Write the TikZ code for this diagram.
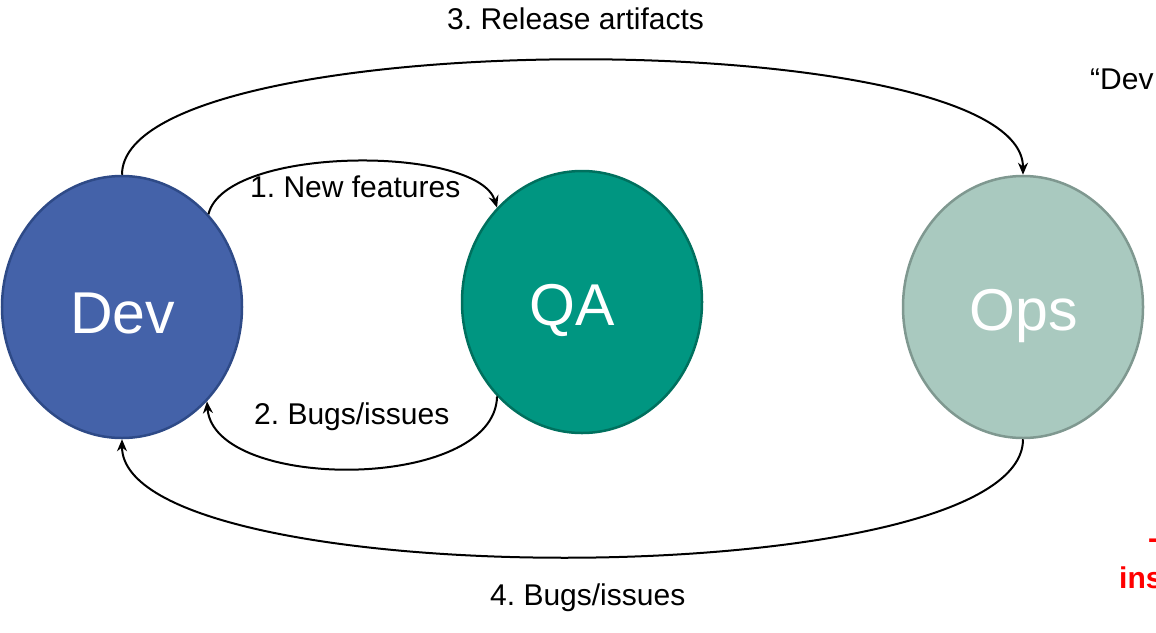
\documentclass[tikz,border=0pt]{standalone}
\usepackage{fontspec}
\setmainfont{Liberation Sans}
\frenchspacing
\usetikzlibrary{arrows.meta,shapes.geometric}
\definecolor{devfill}{RGB}{68,98,169}
\definecolor{devline}{RGB}{46,74,135}
\definecolor{qafill}{RGB}{0,150,129}
\definecolor{qaline}{RGB}{0,112,94}
\definecolor{opsfill}{RGB}{169,201,191}
\definecolor{opsline}{RGB}{127,152,144}
\definecolor{redtxt}{RGB}{255,0,0}
\tikzset{
  team/.style={ellipse, minimum width=240pt, minimum height=262pt, inner sep=0pt, line width=2.5pt},
  bigtxt/.style={text=white, font=\fontsize{59}{62}\selectfont, inner sep=0pt, anchor=base},
  lbl/.style={font=\fontsize{30}{32}\selectfont, inner sep=0pt, anchor=base west},
  flow/.style={line width=2pt, -{Stealth[length=12pt,width=10pt]}},
}
\begin{document}
\begin{tikzpicture}[x=1pt,y=-1pt]
\useasboundingbox (0,0) rectangle (1156,632);
\clip (0,0) rectangle (1156,632);
\node[team, draw=devline, fill=devfill] (dev) at (122,307) {};
\node[team, draw=qaline, fill=qafill] (qa) at (582,302) {};
\node[team, draw=opsline, fill=opsfill] (ops) at (1023,307) {};
\node[bigtxt] (devt) at (122.5,333) {Dev};
\node[bigtxt] (qat) at (572.5,325) {QA};
\node[bigtxt] (opst) at (1024,330) {Ops};
\node[lbl] (l1) at (250,197) {1. New features};
\node[lbl] (l2) at (254,424) {2. Bugs/issues};
\node[lbl] (l3) at (447,29) {3. Release artifacts};
\node[lbl] (l4) at (490,605) {4. Bugs/issues};
\node[lbl] (dq) at (1090,89) {\char"201C Dev};
\node[lbl, text=redtxt, font=\fontsize{30}{32}\selectfont\bfseries] (r1) at (1148,548) {-};
\node[lbl, text=redtxt, font=\fontsize{30}{32}\selectfont\bfseries] (r2) at (1119,588) {ins};
\draw[flow] (dev.47) .. controls (225,145) and (478,145) .. (qa.132);
\draw[flow] (qa.228) .. controls (495,492) and (214,492) .. (dev.312);
\draw[flow] (dev.north) .. controls (122,22) and (1023,22) .. (ops.north);
\draw[flow] (ops.south) .. controls (1023,596) and (122,596) .. (dev.south);
\end{tikzpicture}
\end{document}
